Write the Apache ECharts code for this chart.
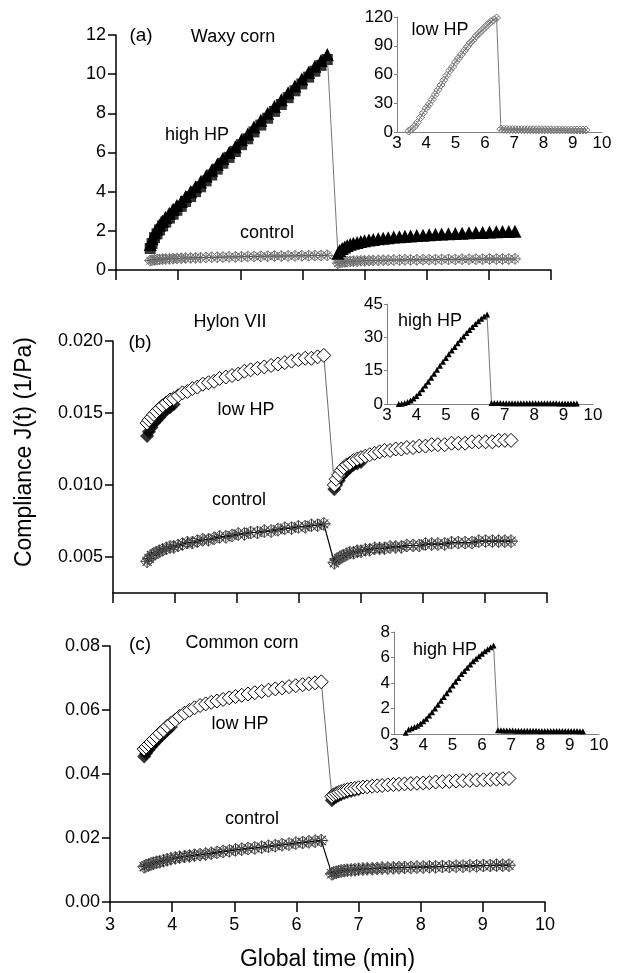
<!DOCTYPE html>
<html>
<head>
<meta charset="utf-8">
<script src="https://cdn.jsdelivr.net/npm/echarts@6/dist/echarts.min.js"></script>
<style>
html, body { margin: 0; padding: 0; background: #fff; }
#chart { width: 620px; height: 973px; }
</style>
</head>
<body>
<div id="chart"></div>
<script>
// time points (min), creep phase and recovery phase
var t1 = [3.55,3.58,3.62,3.66,3.70, 3.75,3.80,3.86,3.92,3.98, 4.05,4.12,4.20,4.28,4.36, 4.45,4.54,4.63,4.72,4.82,
          4.92,5.02,5.12,5.22,5.33, 5.44,5.55,5.66,5.77,5.88, 5.99,6.10,6.20,6.30,6.40];
var t2 = [6.57,6.60,6.64,6.68,6.72, 6.77,6.82,6.88,6.94,7.00, 7.07,7.14,7.22,7.30,7.38, 7.47,7.56,7.65,7.74,7.84,
          7.94,8.04,8.14,8.24,8.35, 8.46,8.57,8.68,8.79,8.90, 9.01,9.12,9.22,9.32,9.42];
// time points of the insets
var ti1 = [3.4,3.5,3.6,3.7,3.8,3.9,4.0,4.1,4.2,4.3,4.4,4.5,4.6,4.7,4.8,4.9,5.0,5.1,5.2,5.3,
           5.4,5.5,5.6,5.7,5.8,5.9,6.0,6.1,6.2,6.3,6.4];
var ti2 = [6.55,6.65,6.75,6.85,6.95,7.05,7.15,7.25,7.35,7.45,7.55,7.65,7.75,7.85,7.95,
           8.05,8.15,8.25,8.35,8.45,8.55,8.65,8.75,8.85,8.95,9.05,9.15,9.25,9.35,9.45];

// (a) Waxy corn
var highA1 = [1.3,1.6,1.9,2.1,2.3, 2.5,2.7,2.9,3.1,3.3, 3.5,3.75,4.0,4.25,4.5, 4.8,5.1,5.4,5.7,6.0,
              6.3,6.65,6.95,7.3,7.65, 8.0,8.35,8.7,9.05,9.4, 9.75,10.1,10.4,10.7,11.0];
var highASq1 = [1.1,1.35,1.65,1.85,2.05, 2.25,2.45,2.65,2.85,3.05, 3.25,3.5,3.75,4.0,4.25, 4.55,4.85,5.15,5.45,5.75,
                6.05,6.4,6.7,7.05,7.4, 7.75,8.1,8.45,8.8,9.15, 9.5,9.85,10.15,10.45,10.75];
var highA2 = [0.85,1.0,1.1,1.18,1.25, 1.31,1.36,1.41,1.45,1.49, 1.53,1.56,1.59,1.62,1.65, 1.68,1.7,1.72,1.74,1.76,
              1.78,1.8,1.82,1.84,1.85, 1.87,1.88,1.9,1.91,1.92, 1.94,1.95,1.96,1.97,1.98];
var ctrlA1 = [0.48,0.5,0.52,0.53,0.54, 0.55,0.56,0.57,0.58,0.59, 0.6,0.61,0.62,0.62,0.63, 0.64,0.65,0.65,0.66,0.67,
              0.67,0.68,0.69,0.69,0.7, 0.7,0.71,0.71,0.72,0.72, 0.73,0.73,0.74,0.74,0.75];
var ctrlA2 = [0.35,0.38,0.4,0.42,0.43, 0.44,0.45,0.46,0.47,0.47, 0.48,0.49,0.49,0.5,0.5, 0.51,0.51,0.52,0.52,0.52,
              0.53,0.53,0.53,0.54,0.54, 0.54,0.55,0.55,0.55,0.55, 0.56,0.56,0.56,0.56,0.57];
var insetA1 = [1,3,6,10,15,20,25,29,34,39,44,49,54,59,64,68,73,77,81,85,89,93,96,100,103,106,109,112,115,117,119];
var insetA2 = [3.0,2.8,2.7,2.6,2.6,2.5,2.5,2.5,2.4,2.4,2.4,2.4,2.3,2.3,2.3,2.3,2.3,2.2,2.2,2.2,
               2.2,2.2,2.2,2.1,2.1,2.1,2.1,2.1,2.1,2.1];

// (b) Hylon VII
var lowB1 = [0.0143,0.0145,0.0147,0.0149,0.0151, 0.0153,0.0155,0.0157,0.0159,0.0160, 0.0162,0.0164,0.0165,0.0167,0.0168,
             0.0170,0.0171,0.0172,0.0174,0.0175, 0.0176,0.0177,0.0179,0.0180,0.0181, 0.0182,0.0183,0.0184,0.0185,0.0186,
             0.0187,0.0188,0.0188,0.0189,0.0190];
var lowB2 = [0.0100,0.0104,0.0107,0.0110,0.0112, 0.0114,0.0115,0.0117,0.0118,0.0119, 0.0120,0.0121,0.0122,0.0123,0.0124,
             0.0124,0.0125,0.0125,0.0126,0.0126, 0.0127,0.0127,0.0128,0.0128,0.0128, 0.0129,0.0129,0.0129,0.0130,0.0130,
             0.0130,0.0130,0.0131,0.0131,0.0131];
var lowBFill1 = [0.0134,0.0137,0.0140,0.0143,0.0145,0.0147,0.0150,0.0152,0.0154,0.0156];
var lowBFill2 = [0.0097,0.0100,0.0103,0.0106,0.0108,0.0110,0.0112,0.0114,0.0115,0.0116];
var ctrlB1 = [0.0047,0.0049,0.0051,0.0052,0.0053, 0.0054,0.0055,0.0056,0.0057,0.0057, 0.0058,0.0059,0.0060,0.0060,0.0061,
              0.0062,0.0062,0.0063,0.0064,0.0064, 0.0065,0.0066,0.0066,0.0067,0.0067, 0.0068,0.0068,0.0069,0.0070,0.0070,
              0.0071,0.0071,0.0072,0.0072,0.0073];
var ctrlB2 = [0.0046,0.0048,0.0049,0.0050,0.0051, 0.0052,0.0053,0.0053,0.0054,0.0054, 0.0055,0.0055,0.0056,0.0056,0.0056,
              0.0057,0.0057,0.0057,0.0058,0.0058, 0.0058,0.0059,0.0059,0.0059,0.0059, 0.0060,0.0060,0.0060,0.0060,0.0061,
              0.0061,0.0061,0.0061,0.0061,0.0061];
var insetB1 = [0,0.1,0.4,0.9,1.6,2.5,3.6,5.0,6.6,8.3,10.0,11.8,13.6,15.4,17.2,19.0,20.7,22.4,24.1,25.7,
               27.3,28.9,30.4,31.9,33.3,34.7,36.0,37.2,38.4,39.4,40.3];
var insetB2 = [0.5,0.45,0.4,0.4,0.38,0.36,0.35,0.35,0.34,0.33,0.33,0.32,0.32,0.31,0.31,0.3,0.3,0.3,0.3,0.29,
               0.29,0.29,0.29,0.28,0.28,0.28,0.28,0.28,0.27,0.27];

// (c) Common corn
var lowC1 = [0.0478,0.0484,0.0492,0.0500,0.0508, 0.0517,0.0527,0.0537,0.0549,0.0558, 0.0568,0.0580,0.0590,0.0599,0.0607,
             0.0614,0.0619,0.0624,0.0628,0.0633, 0.0638,0.0642,0.0646,0.0650,0.0654, 0.0658,0.0662,0.0666,0.0669,0.0673,
             0.0676,0.0679,0.0682,0.0685,0.0688];
var lowC2 = [0.0330,0.0335,0.0339,0.0342,0.0345, 0.0348,0.0351,0.0353,0.0355,0.0357, 0.0359,0.0360,0.0362,0.0363,0.0364,
             0.0366,0.0367,0.0368,0.0369,0.0370, 0.0371,0.0372,0.0373,0.0375,0.0376, 0.0377,0.0378,0.0379,0.0380,0.0381,
             0.0382,0.0383,0.0384,0.0385,0.0386];
var lowCFill1 = [0.0455,0.0465,0.0475,0.0485,0.0494,0.0504,0.0514,0.0525,0.0537,0.0547];
var lowCFill2 = [0.0318,0.0324,0.0329,0.0333,0.0337,0.0341,0.0344,0.0347,0.0350,0.0352];
var ctrlC1 = [0.0110,0.0113,0.0116,0.0119,0.0121, 0.0124,0.0126,0.0129,0.0132,0.0135, 0.0138,0.0140,0.0142,0.0144,0.0146,
              0.0148,0.0150,0.0152,0.0155,0.0158, 0.0160,0.0163,0.0165,0.0167,0.0169, 0.0171,0.0174,0.0176,0.0179,0.0181,
              0.0184,0.0186,0.0188,0.0190,0.0192];
var ctrlC2 = [0.0088,0.0091,0.0093,0.0095,0.0097, 0.0098,0.0099,0.0100,0.0101,0.0102, 0.0103,0.0104,0.0104,0.0105,0.0106,
              0.0106,0.0107,0.0107,0.0108,0.0108, 0.0109,0.0109,0.0110,0.0110,0.0111, 0.0111,0.0112,0.0112,0.0113,0.0113,
              0.0114,0.0114,0.0115,0.0115,0.0115];
var insetC1 = [0.1,0.35,0.45,0.55,0.65,0.8,1.0,1.2,1.45,1.7,2.0,2.3,2.6,2.9,3.2,3.5,3.8,4.1,4.4,4.7,
               4.95,5.2,5.45,5.7,5.9,6.1,6.3,6.5,6.65,6.8,6.95];
var insetC2 = [0.30,0.29,0.28,0.28,0.27,0.27,0.26,0.26,0.26,0.25,0.25,0.25,0.25,0.25,0.24,0.24,0.24,0.24,0.24,0.24,
               0.23,0.23,0.23,0.23,0.23,0.23,0.23,0.23,0.22,0.22];

var FONT = 'Liberation Sans, Arial, sans-serif';
var STAR = 'path://M0,5L10,5M5,0L5,10M1.5,1.5L8.5,8.5M8.5,1.5L1.5,8.5';
var XDIAMOND = 'path://M5,0L10,5L5,10L0,5ZM2.5,2.5L7.5,7.5M7.5,2.5L2.5,7.5';

function pair(ts, ys) {
    return ys.map(function (y, i) { return [ts[i], y]; });
}
function both(a, b) {
    return pair(t1, a).concat(pair(t2, b));
}
function bothInset(a, b) {
    return pair(ti1, a).concat(pair(ti2, b));
}

var myChart = echarts.init(document.getElementById('chart'));

function mainX(idx, showLabel) {
    return {
        gridIndex: idx, type: 'value', min: 3, max: 10, interval: 1,
        axisLine: { lineStyle: { color: '#000', width: 1.5 } },
        axisTick: { show: true, inside: false, length: 10, lineStyle: { color: '#000', width: 1.5 } },
        axisLabel: { show: showLabel, color: '#000', fontSize: 18, fontFamily: FONT, margin: 14 },
        splitLine: { show: false }
    };
}
function insetX(idx) {
    return {
        gridIndex: idx, type: 'value', min: 3, max: 10, interval: 1,
        axisLine: { lineStyle: { color: '#808080', width: 1 } },
        axisTick: { show: false },
        axisLabel: { color: '#000', fontSize: 17, fontFamily: FONT, margin: 3 },
        splitLine: { show: false }
    };
}
function insetY(idx, max, step) {
    return {
        gridIndex: idx, type: 'value', min: 0, max: max, interval: step,
        axisLine: { show: true, lineStyle: { color: '#808080', width: 1 } },
        axisTick: { show: true, length: 3, lineStyle: { color: '#808080' } },
        axisLabel: { color: '#000', fontSize: 17, fontFamily: FONT, margin: 4 },
        splitLine: { show: false }
    };
}
var mainYStyle = {
    axisLine: { show: true, lineStyle: { color: '#000', width: 1.5 } },
    axisTick: { show: true, inside: false, length: 8, lineStyle: { color: '#000', width: 1.5 } },
    splitLine: { show: false }
};

function lineSeries(x, data, symbol, size, item, lineColor, lineWidth) {
    return {
        type: 'line', xAxisIndex: x, yAxisIndex: x, data: data,
        symbol: symbol, symbolSize: size, itemStyle: item,
        lineStyle: { color: lineColor, width: lineWidth },
        clip: false, silent: true
    };
}
function dots(x, data, symbol, size, item) {
    return {
        type: 'scatter', xAxisIndex: x, yAxisIndex: x, data: data,
        symbol: symbol, symbolSize: size, itemStyle: item, clip: false, silent: true
    };
}

var black = { color: '#000' };
var hollow = { color: '#fff', borderColor: '#000', borderWidth: 1 };
var starDark = { color: 'rgba(0,0,0,0)', borderColor: '#000', borderWidth: 1.1 };
var xdGrey = { color: 'rgba(0,0,0,0)', borderColor: '#555', borderWidth: 1 };

var option = {
    animation: false,
    backgroundColor: '#fff',
    grid: [
        { left: 116, top: 35, width: 435, height: 235, outerBoundsMode: 'none' },
        { left: 113, top: 341, width: 434, height: 252, outerBoundsMode: 'none' },
        { left: 110, top: 646, width: 435, height: 256, outerBoundsMode: 'none' },
        { left: 397, top: 17, width: 205, height: 115, outerBoundsMode: 'none' },
        { left: 387, top: 304, width: 206, height: 100, outerBoundsMode: 'none' },
        { left: 394, top: 632, width: 205, height: 102, outerBoundsMode: 'none' }
    ],
    xAxis: [
        mainX(0, false),
        mainX(1, false),
        Object.assign(mainX(2, true), {
            name: 'Global time (min)', nameLocation: 'middle', nameGap: 46,
            nameTextStyle: { color: '#000', fontSize: 23, fontFamily: FONT }
        }),
        insetX(3), insetX(4), insetX(5)
    ],
    yAxis: [
        Object.assign({
            gridIndex: 0, type: 'value', min: 0, max: 12, interval: 2,
            axisLabel: { color: '#000', fontSize: 18, fontFamily: FONT, margin: 10 }
        }, mainYStyle),
        Object.assign({
            gridIndex: 1, type: 'value', min: 0.0025, max: 0.020,
            axisTick: { show: true, inside: false, length: 8, customValues: [0.005, 0.010, 0.015, 0.020],
                        lineStyle: { color: '#000', width: 1.5 } },
            axisLabel: { color: '#000', fontSize: 18, fontFamily: FONT, margin: 10,
                         customValues: [0.005, 0.010, 0.015, 0.020],
                         formatter: function (v) { return v.toFixed(3); } }
        }, { axisLine: mainYStyle.axisLine, splitLine: mainYStyle.splitLine }),
        Object.assign({
            gridIndex: 2, type: 'value', min: 0, max: 0.08, interval: 0.02,
            axisLabel: { color: '#000', fontSize: 18, fontFamily: FONT, margin: 10,
                         formatter: function (v) { return v.toFixed(2); } }
        }, mainYStyle),
        insetY(3, 120, 30), insetY(4, 45, 15), insetY(5, 8, 2)
    ],
    graphic: [
        { type: 'text', x: 25, y: 452, rotation: Math.PI / 2,
          style: { text: 'Compliance J(t) (1/Pa)', fontSize: 23, fontFamily: FONT, fill: '#000',
                   textAlign: 'center', textVerticalAlign: 'middle' } },
        { type: 'text', x: 141, y: 36, style: { text: '(a)', fontSize: 19, fontFamily: FONT, fill: '#000', textAlign: 'center', textVerticalAlign: 'middle' } },
        { type: 'text', x: 233, y: 37, style: { text: 'Waxy corn', fontSize: 18, fontFamily: FONT, fill: '#000', textAlign: 'center', textVerticalAlign: 'middle' } },
        { type: 'text', x: 197, y: 135, style: { text: 'high HP', fontSize: 18, fontFamily: FONT, fill: '#000', textAlign: 'center', textVerticalAlign: 'middle' } },
        { type: 'text', x: 267, y: 233, style: { text: 'control', fontSize: 18, fontFamily: FONT, fill: '#000', textAlign: 'center', textVerticalAlign: 'middle' } },
        { type: 'text', x: 440, y: 30, style: { text: 'low HP', fontSize: 18, fontFamily: FONT, fill: '#000', textAlign: 'center', textVerticalAlign: 'middle' } },
        { type: 'text', x: 230, y: 322, style: { text: 'Hylon VII', fontSize: 18, fontFamily: FONT, fill: '#000', textAlign: 'center', textVerticalAlign: 'middle' } },
        { type: 'text', x: 140, y: 343, style: { text: '(b)', fontSize: 19, fontFamily: FONT, fill: '#000', textAlign: 'center', textVerticalAlign: 'middle' } },
        { type: 'text', x: 246, y: 410, style: { text: 'low HP', fontSize: 18, fontFamily: FONT, fill: '#000', textAlign: 'center', textVerticalAlign: 'middle' } },
        { type: 'text', x: 239, y: 500, style: { text: 'control', fontSize: 18, fontFamily: FONT, fill: '#000', textAlign: 'center', textVerticalAlign: 'middle' } },
        { type: 'text', x: 430, y: 321, style: { text: 'high HP', fontSize: 18, fontFamily: FONT, fill: '#000', textAlign: 'center', textVerticalAlign: 'middle' } },
        { type: 'text', x: 140, y: 645, style: { text: '(c)', fontSize: 19, fontFamily: FONT, fill: '#000', textAlign: 'center', textVerticalAlign: 'middle' } },
        { type: 'text', x: 242, y: 643, style: { text: 'Common corn', fontSize: 18, fontFamily: FONT, fill: '#000', textAlign: 'center', textVerticalAlign: 'middle' } },
        { type: 'text', x: 240, y: 724, style: { text: 'low HP', fontSize: 18, fontFamily: FONT, fill: '#000', textAlign: 'center', textVerticalAlign: 'middle' } },
        { type: 'text', x: 252, y: 819, style: { text: 'control', fontSize: 18, fontFamily: FONT, fill: '#000', textAlign: 'center', textVerticalAlign: 'middle' } },
        { type: 'text', x: 445, y: 650, style: { text: 'high HP', fontSize: 18, fontFamily: FONT, fill: '#000', textAlign: 'center', textVerticalAlign: 'middle' } }
    ],
    series: [
        // (a) control: crossed diamonds, asterisks
        lineSeries(0, both(ctrlA1, ctrlA2), XDIAMOND, 11, { color: 'rgba(0,0,0,0)', borderColor: '#777', borderWidth: 1 }, '#555', 0.8),
        dots(0, both(ctrlA1, ctrlA2), STAR, 11, { color: 'rgba(0,0,0,0)', borderColor: '#333', borderWidth: 0.9 }),
        // (a) high HP: squares under triangles
        dots(0, pair(t1, highASq1), 'rect', 11, black),
        lineSeries(0, both(highA1, highA2), 'triangle', 13, black, '#555', 0.8),

        // (b) low HP: filled diamonds under hollow ones
        dots(1, pair(t1, lowBFill1).concat(pair(t2, lowBFill2)), 'diamond', 14, black),
        lineSeries(1, both(lowB1, lowB2), 'diamond', 14, hollow, '#444', 0.8),
        // (b) control
        lineSeries(1, both(ctrlB1, ctrlB2), XDIAMOND, 13, xdGrey, '#000', 1.2),
        dots(1, both(ctrlB1, ctrlB2), STAR, 13, starDark),

        // (c) low HP
        dots(2, pair(t1, lowCFill1).concat(pair(t2, lowCFill2)), 'diamond', 14, black),
        lineSeries(2, both(lowC1, lowC2), 'diamond', 14, hollow, '#444', 0.8),
        // (c) control
        lineSeries(2, both(ctrlC1, ctrlC2), XDIAMOND, 13, xdGrey, '#000', 1.2),
        dots(2, both(ctrlC1, ctrlC2), STAR, 13, starDark),

        // insets
        lineSeries(3, bothInset(insetA1, insetA2), XDIAMOND, 8, { color: 'rgba(0,0,0,0)', borderColor: '#777', borderWidth: 1 }, '#555', 0.8),
        lineSeries(4, bothInset(insetB1, insetB2), 'triangle', 6, black, '#555', 0.8),
        lineSeries(5, bothInset(insetC1, insetC2), 'triangle', 6, black, '#555', 0.8)
    ]
};

myChart.setOption(option);
</script>
</body>
</html>
